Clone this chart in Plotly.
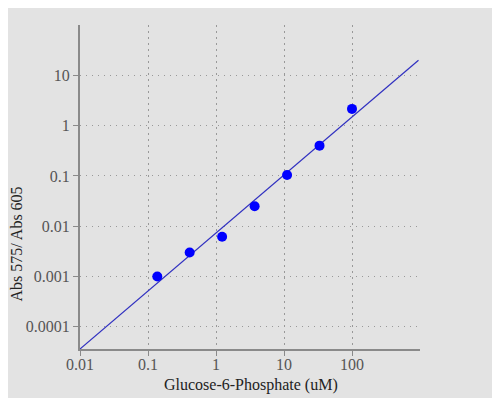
import plotly.graph_objects as go

conc = [0.137, 0.41, 1.23, 3.7, 11.1, 33.3, 100]
ratio = [0.001, 0.003, 0.0062, 0.025, 0.104, 0.40, 2.15]
fit_x = [0.01, 950]
fit_y = [0.0000363, 20]
x_ticks = [0.01, 0.1, 1, 10, 100]
x_tick_text = ["0.01", "0.1", "1", "10", "100"]
y_ticks = [0.0001, 0.001, 0.01, 0.1, 1, 10]
y_tick_text = ["0.0001", "0.001", "0.01", "0.1", "1", "10"]
x_title = "Glucose-6-Phosphate (uM)"
y_title = "Abs 575/ Abs 605"

bg = "#e3e3e3"
fig = go.Figure()
fig.add_trace(go.Scatter(x=fit_x, y=fit_y, mode="lines",
                         line=dict(color="#3030c0", width=1.2), showlegend=False))
fig.add_trace(go.Scatter(x=conc, y=ratio, mode="markers",
                         marker=dict(color="#0000ff", size=10), showlegend=False))

axis_common = dict(
    showgrid=True, gridcolor="#999999", gridwidth=1,
    showline=True, linecolor="#8a8a8a", linewidth=2,
    ticks="outside", ticklen=5, tickcolor="#8a8a8a", tickwidth=1,
    tickfont=dict(family="Liberation Serif", size=16, color="#555555"),
    zeroline=False, mirror=False, automargin=False,
)
fig.update_xaxes(type="log", range=[-2, 3], tickvals=x_ticks, ticktext=x_tick_text,
                 griddash="2px,4px", ticklabelstandoff=-5, **axis_common)
fig.update_yaxes(type="log", range=[-4.44, 2], tickvals=y_ticks, ticktext=y_tick_text,
                 griddash="1px,5px", **axis_common)
title_font = dict(family="Liberation Serif", size=16, color="#222222")
fig.add_annotation(text=x_title, xref="paper", yref="paper", x=0.5015, y=-0.111,
                   xanchor="center", yanchor="middle", showarrow=False, font=title_font)
fig.add_annotation(text=y_title, xref="paper", yref="paper", x=0, xshift=-63, y=0.3225,
                   xanchor="center", yanchor="middle", textangle=-90, showarrow=False,
                   font=title_font)
fig.update_layout(width=492, height=390, margin=dict(l=72, r=80, t=17, b=49),
                  paper_bgcolor=bg, plot_bgcolor=bg)
fig.write_html("out.html")
